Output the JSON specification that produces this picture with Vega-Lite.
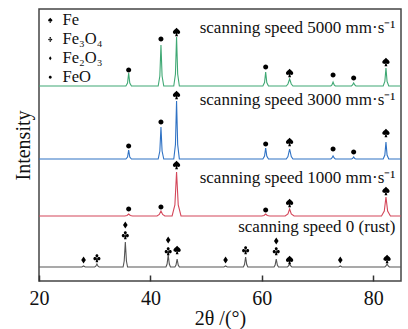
{
  "$schema": "https://vega.github.io/schema/vega-lite/v6.json",
  "width": 362,
  "height": 272,
  "autosize": "none",
  "padding": {"left": 39, "top": 9, "right": 7, "bottom": 48},
  "config": {
    "view": {"stroke": "#444", "strokeWidth": 1.5},
    "font": "Liberation Serif"
  },
  "datasets": {
    "spectra": [
      {"series":"5000","angle":20,"intensity":195},
      {"series":"5000","angle":35.6,"intensity":195},{"series":"5000","angle":35.9,"intensity":198},{"series":"5000","angle":36.1,"intensity":208},{"series":"5000","angle":36.3,"intensity":198},{"series":"5000","angle":36.6,"intensity":195},
      {"series":"5000","angle":41.4,"intensity":195},{"series":"5000","angle":41.7,"intensity":205},{"series":"5000","angle":41.9,"intensity":236},{"series":"5000","angle":42.1,"intensity":205},{"series":"5000","angle":42.4,"intensity":195},
      {"series":"5000","angle":44.2,"intensity":195},{"series":"5000","angle":44.5,"intensity":207},{"series":"5000","angle":44.7,"intensity":244},{"series":"5000","angle":44.9,"intensity":207},{"series":"5000","angle":45.2,"intensity":195},
      {"series":"5000","angle":60.2,"intensity":195},{"series":"5000","angle":60.5,"intensity":198.5},{"series":"5000","angle":60.7,"intensity":209},{"series":"5000","angle":60.9,"intensity":198.5},{"series":"5000","angle":61.2,"intensity":195},
      {"series":"5000","angle":64.4,"intensity":195},{"series":"5000","angle":64.7,"intensity":197},{"series":"5000","angle":65.0,"intensity":202},{"series":"5000","angle":65.3,"intensity":197},{"series":"5000","angle":65.6,"intensity":195},
      {"series":"5000","angle":72.4,"intensity":195},{"series":"5000","angle":72.6,"intensity":196},{"series":"5000","angle":72.8,"intensity":199},{"series":"5000","angle":73.0,"intensity":196},{"series":"5000","angle":73.2,"intensity":195},
      {"series":"5000","angle":76.1,"intensity":195},{"series":"5000","angle":76.3,"intensity":196},{"series":"5000","angle":76.5,"intensity":198},{"series":"5000","angle":76.7,"intensity":196},{"series":"5000","angle":76.9,"intensity":195},
      {"series":"5000","angle":81.8,"intensity":195},{"series":"5000","angle":82.1,"intensity":199.5},{"series":"5000","angle":82.3,"intensity":213},{"series":"5000","angle":82.5,"intensity":199.5},{"series":"5000","angle":82.8,"intensity":195},
      {"series":"5000","angle":85,"intensity":195},

      {"series":"3000","angle":20,"intensity":122},
      {"series":"3000","angle":35.6,"intensity":122},{"series":"3000","angle":35.9,"intensity":124},{"series":"3000","angle":36.1,"intensity":131},{"series":"3000","angle":36.3,"intensity":124},{"series":"3000","angle":36.6,"intensity":122},
      {"series":"3000","angle":41.4,"intensity":122},{"series":"3000","angle":41.7,"intensity":130},{"series":"3000","angle":41.9,"intensity":154},{"series":"3000","angle":42.1,"intensity":130},{"series":"3000","angle":42.4,"intensity":122},
      {"series":"3000","angle":44.2,"intensity":122},{"series":"3000","angle":44.5,"intensity":136.5},{"series":"3000","angle":44.7,"intensity":180},{"series":"3000","angle":44.9,"intensity":136.5},{"series":"3000","angle":45.2,"intensity":122},
      {"series":"3000","angle":60.2,"intensity":122},{"series":"3000","angle":60.5,"intensity":125},{"series":"3000","angle":60.7,"intensity":133},{"series":"3000","angle":60.9,"intensity":125},{"series":"3000","angle":61.2,"intensity":122},
      {"series":"3000","angle":64.4,"intensity":122},{"series":"3000","angle":64.7,"intensity":124.5},{"series":"3000","angle":65.0,"intensity":132},{"series":"3000","angle":65.3,"intensity":124.5},{"series":"3000","angle":65.6,"intensity":122},
      {"series":"3000","angle":72.4,"intensity":122},{"series":"3000","angle":72.6,"intensity":123},{"series":"3000","angle":72.8,"intensity":125},{"series":"3000","angle":73.0,"intensity":123},{"series":"3000","angle":73.2,"intensity":122},
      {"series":"3000","angle":76.1,"intensity":122},{"series":"3000","angle":76.3,"intensity":122.5},{"series":"3000","angle":76.5,"intensity":124},{"series":"3000","angle":76.7,"intensity":122.5},{"series":"3000","angle":76.9,"intensity":122},
      {"series":"3000","angle":81.8,"intensity":122},{"series":"3000","angle":82.1,"intensity":126},{"series":"3000","angle":82.3,"intensity":139},{"series":"3000","angle":82.5,"intensity":126},{"series":"3000","angle":82.8,"intensity":122},
      {"series":"3000","angle":85,"intensity":122},

      {"series":"1000","angle":20,"intensity":65},
      {"series":"1000","angle":35.4,"intensity":65},{"series":"1000","angle":35.8,"intensity":65.5},{"series":"1000","angle":36.1,"intensity":67},{"series":"1000","angle":36.4,"intensity":65.5},{"series":"1000","angle":36.8,"intensity":65},
      {"series":"1000","angle":41.2,"intensity":65},{"series":"1000","angle":41.6,"intensity":66.5},{"series":"1000","angle":41.9,"intensity":70},{"series":"1000","angle":42.2,"intensity":66.5},{"series":"1000","angle":42.6,"intensity":65},
      {"series":"1000","angle":43.9,"intensity":65},{"series":"1000","angle":44.4,"intensity":76},{"series":"1000","angle":44.7,"intensity":109},{"series":"1000","angle":45.0,"intensity":76},{"series":"1000","angle":45.5,"intensity":65},
      {"series":"1000","angle":60.0,"intensity":65},{"series":"1000","angle":60.4,"intensity":65.5},{"series":"1000","angle":60.7,"intensity":67},{"series":"1000","angle":61.0,"intensity":65.5},{"series":"1000","angle":61.4,"intensity":65},
      {"series":"1000","angle":64.2,"intensity":65},{"series":"1000","angle":64.7,"intensity":67},{"series":"1000","angle":65.0,"intensity":72},{"series":"1000","angle":65.3,"intensity":67},{"series":"1000","angle":65.8,"intensity":65},
      {"series":"1000","angle":81.5,"intensity":65},{"series":"1000","angle":82.0,"intensity":70},{"series":"1000","angle":82.3,"intensity":84},{"series":"1000","angle":82.6,"intensity":70},{"series":"1000","angle":83.1,"intensity":65},
      {"series":"1000","angle":85,"intensity":65},

      {"series":"0","angle":20,"intensity":14},
      {"series":"0","angle":27.7,"intensity":14},{"series":"0","angle":28.0,"intensity":15},{"series":"0","angle":28.3,"intensity":14},
      {"series":"0","angle":30.0,"intensity":14},{"series":"0","angle":30.2,"intensity":14.8},{"series":"0","angle":30.4,"intensity":17},{"series":"0","angle":30.6,"intensity":14.8},{"series":"0","angle":30.8,"intensity":14},
      {"series":"0","angle":35.1,"intensity":14},{"series":"0","angle":35.3,"intensity":20},{"series":"0","angle":35.5,"intensity":39},{"series":"0","angle":35.7,"intensity":20},{"series":"0","angle":35.9,"intensity":14},
      {"series":"0","angle":42.8,"intensity":14},{"series":"0","angle":43.0,"intensity":17},{"series":"0","angle":43.2,"intensity":26},{"series":"0","angle":43.4,"intensity":17},{"series":"0","angle":43.6,"intensity":14},
      {"series":"0","angle":44.4,"intensity":14},{"series":"0","angle":44.6,"intensity":16},{"series":"0","angle":44.8,"intensity":22},{"series":"0","angle":45.0,"intensity":16},{"series":"0","angle":45.2,"intensity":14},
      {"series":"0","angle":53.2,"intensity":14},{"series":"0","angle":53.5,"intensity":15},{"series":"0","angle":53.8,"intensity":14},
      {"series":"0","angle":56.7,"intensity":14},{"series":"0","angle":56.9,"intensity":16.5},{"series":"0","angle":57.1,"intensity":24},{"series":"0","angle":57.3,"intensity":16.5},{"series":"0","angle":57.5,"intensity":14},
      {"series":"0","angle":62.2,"intensity":14},{"series":"0","angle":62.4,"intensity":16},{"series":"0","angle":62.6,"intensity":22},{"series":"0","angle":62.8,"intensity":16},{"series":"0","angle":63.0,"intensity":14},
      {"series":"0","angle":64.6,"intensity":14},{"series":"0","angle":64.8,"intensity":15},{"series":"0","angle":65.0,"intensity":17},{"series":"0","angle":65.2,"intensity":15},{"series":"0","angle":65.4,"intensity":14},
      {"series":"0","angle":73.8,"intensity":14},{"series":"0","angle":74.1,"intensity":15},{"series":"0","angle":74.4,"intensity":14},
      {"series":"0","angle":82.1,"intensity":14},{"series":"0","angle":82.3,"intensity":15},{"series":"0","angle":82.5,"intensity":17},{"series":"0","angle":82.7,"intensity":15},{"series":"0","angle":82.9,"intensity":14},
      {"series":"0","angle":85,"intensity":14}
    ],
    "markers": [
      {"phase":"FeO","angle":36.1,"intensity":211},{"phase":"FeO","angle":41.9,"intensity":242},{"phase":"Fe","angle":44.7,"intensity":249},{"phase":"FeO","angle":60.7,"intensity":214},{"phase":"Fe","angle":65.0,"intensity":208},{"phase":"FeO","angle":72.8,"intensity":206},{"phase":"FeO","angle":76.5,"intensity":203},{"phase":"Fe","angle":82.3,"intensity":219},
      {"phase":"FeO","angle":36.1,"intensity":135},{"phase":"FeO","angle":41.9,"intensity":159},{"phase":"Fe","angle":44.7,"intensity":186},{"phase":"FeO","angle":60.7,"intensity":137},{"phase":"Fe","angle":65.0,"intensity":139},{"phase":"FeO","angle":72.8,"intensity":132},{"phase":"FeO","angle":76.5,"intensity":129},{"phase":"Fe","angle":82.3,"intensity":148},
      {"phase":"FeO","angle":36.1,"intensity":72},{"phase":"FeO","angle":41.9,"intensity":74},{"phase":"Fe","angle":44.7,"intensity":116},{"phase":"FeO","angle":60.7,"intensity":71},{"phase":"Fe","angle":65.0,"intensity":78},{"phase":"Fe","angle":82.3,"intensity":90},
      {"phase":"Fe₂O₃","angle":28.0,"intensity":21},{"phase":"Fe₃O₄","angle":30.4,"intensity":23},{"phase":"Fe₃O₄","angle":35.5,"intensity":46},{"phase":"Fe₂O₃","angle":35.5,"intensity":56},{"phase":"Fe₃O₄","angle":43.2,"intensity":30},{"phase":"Fe₂O₃","angle":43.2,"intensity":41},{"phase":"Fe","angle":44.8,"intensity":31},{"phase":"Fe₂O₃","angle":53.5,"intensity":21},{"phase":"Fe₃O₄","angle":57.1,"intensity":31},{"phase":"Fe₃O₄","angle":62.6,"intensity":30},{"phase":"Fe₂O₃","angle":62.6,"intensity":40},{"phase":"Fe","angle":65.0,"intensity":21},{"phase":"Fe₂O₃","angle":74.1,"intensity":21},{"phase":"Fe","angle":82.5,"intensity":22}
    ],
    "labels": [
      {"label":"scanning speed 5000 mm·s⁻¹","angle":84,"intensity":253},
      {"label":"scanning speed 3000 mm·s⁻¹","angle":84,"intensity":181},
      {"label":"scanning speed 1000 mm·s⁻¹","angle":84,"intensity":103},
      {"label":"scanning speed 0 (rust)","angle":84,"intensity":54}
    ]
  },
  "encoding": {
    "x": {
      "field": "angle", "type": "quantitative",
      "scale": {"domain": [20, 85], "nice": false, "zero": false},
      "axis": {"values": [20, 40, 60, 80], "title": "2θ /(°)", "grid": false, "domain": false,
        "ticks": true, "tickSize": -6, "tickColor": "#333", "tickWidth": 1.5, "labelFlush": false, "zindex": 1,
        "labelFont": "Liberation Serif", "labelFontSize": 20, "labelColor": "#111", "labelPadding": 13,
        "titleFont": "Liberation Serif", "titleFontSize": 20, "titleFontWeight": "normal", "titleColor": "#111", "titlePadding": 0}
    },
    "y": {
      "field": "intensity", "type": "quantitative",
      "scale": {"domain": [0, 272], "nice": false, "zero": false},
      "axis": {"title": "Intensity", "labels": false, "ticks": false, "domain": false, "grid": false,
        "titleFont": "Liberation Serif", "titleFontSize": 20, "titleFontWeight": "normal", "titleColor": "#111", "titlePadding": 6}
    }
  },
  "layer": [
    {
      "data": {"name": "spectra"},
      "mark": {"type": "line", "strokeWidth": 1.1},
      "encoding": {
        "color": {"field": "series", "type": "nominal",
          "scale": {"domain": ["5000", "3000", "1000", "0"], "range": ["#3fa874", "#2f72c4", "#d4475a", "#555555"]},
          "legend": null},
        "order": {"field": "angle", "type": "quantitative"}
      }
    },
    {
      "data": {"name": "markers"},
      "mark": {"type": "point", "filled": true, "color": "#000", "opacity": 1, "strokeWidth": 0, "size": 70},
      "encoding": {
        "shape": {"field": "phase", "type": "nominal",
          "scale": {"domain": ["Fe", "Fe₃O₄", "Fe₂O₃", "FeO"],
            "range": [
              "M0,-1 C0.3,-0.6 1,-0.3 0.85,0.2 C0.7,0.55 0.3,0.55 0.1,0.3 L0.35,1 L-0.35,1 L-0.1,0.3 C-0.3,0.55 -0.7,0.55 -0.85,0.2 C-1,-0.3 -0.3,-0.6 0,-1 Z",
              "M-0.36,-0.55 A0.36,0.36 0 1 1 0.36,-0.55 A0.36,0.36 0 1 1 -0.36,-0.55 Z M-0.85,0.15 A0.36,0.36 0 1 1 -0.13,0.15 A0.36,0.36 0 1 1 -0.85,0.15 Z M0.13,0.15 A0.36,0.36 0 1 1 0.85,0.15 A0.36,0.36 0 1 1 0.13,0.15 Z M0,-0.3 L0.32,1 L-0.32,1 Z",
              "M0,-0.85 L0.55,0 L0,0.85 L-0.55,0 Z",
              "M-0.6,0 A0.6,0.6 0 1 1 0.6,0 A0.6,0.6 0 1 1 -0.6,0 Z"]},
          "legend": {"title": null, "orient": "top-left", "offset": 3, "padding": 0,
            "labelFont": "Liberation Serif", "labelFontSize": 16.5, "labelColor": "#111", "labelOffset": 4,
            "rowPadding": 2, "symbolSize": 24, "symbolFillColor": "#000", "symbolStrokeWidth": 0}
        }
      }
    },
    {
      "data": {"name": "labels"},
      "mark": {"type": "text", "align": "right", "baseline": "middle", "font": "Liberation Serif", "fontSize": 17, "color": "#111"},
      "encoding": {"text": {"field": "label", "type": "nominal"}}
    }
  ]
}
